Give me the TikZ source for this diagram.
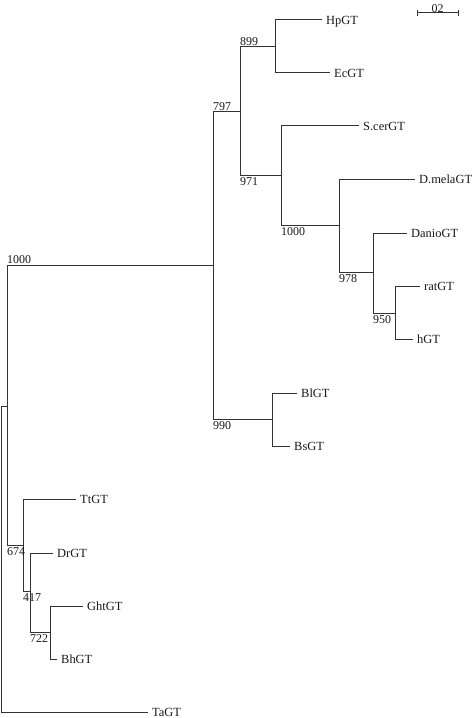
\documentclass[tikz,border=0pt]{standalone}
\usepackage{fontspec}
\setmainfont{Liberation Serif}
\usetikzlibrary{calc}
\definecolor{Ink}{HTML}{1A1A1A}
\definecolor{Twig}{HTML}{333333}
\tikzset{
  branch/.style={draw=Twig,line width=1bp},
  leaf/.style={anchor=west,text=Ink,font=\fontsize{12.5}{12.5}\selectfont,
    inner xsep=4bp,inner ysep=0bp,text height=8.5bp,text depth=0bp},
  bootup/.style={anchor=south west,text=Ink,font=\fontsize{12}{12}\selectfont,
    inner xsep=0bp,inner ysep=1.5bp,text height=8bp,text depth=0bp},
  bootdown/.style={bootup,anchor=north west,inner ysep=2bp}
}
\newcommand{\treeframe}[2]{
  \path[use as bounding box] (0,0) rectangle (#1,#2);
  \fill[white] (0,0) rectangle (#1,#2);
}

\begin{document}
\begin{tikzpicture}[x=1bp,y=-1bp]
  \treeframe{472}{718}

  % internal nodes of the tree
  \coordinate (nR) at (1,406);
  \coordinate (nA) at (7,406);
  \coordinate (nB) at (213,265);
  \coordinate (nC) at (240,112);
  \coordinate (nD) at (275,47);
  \coordinate (nE) at (281,175);
  \coordinate (nF) at (339,225);
  \coordinate (nG) at (373,272);
  \coordinate (nH) at (395,313);
  \coordinate (nJ) at (272,419);
  \coordinate (nK) at (23,545);
  \coordinate (nL) at (30,591);
  \coordinate (nM) at (50,632);

  % leaves
  \node[leaf] (hp)   at (322,20)  {HpGT};
  \node[leaf] (ec)   at (330,73)  {EcGT};
  \node[leaf] (scer) at (359,126) {S.cerGT};
  \node[leaf] (dmel) at (415,179) {D.melaGT};
  \node[leaf] (dan)  at (407,233) {DanioGT};
  \node[leaf] (rat)  at (420,286) {ratGT};
  \node[leaf] (hu)   at (413,339) {hGT};
  \node[leaf] (bl)   at (297,393) {BlGT};
  \node[leaf] (bs)   at (290,446) {BsGT};
  \node[leaf] (tt)   at (76,499)  {TtGT};
  \node[leaf] (dr)   at (53,553)  {DrGT};
  \node[leaf] (ght)  at (83,606)  {GhtGT};
  \node[leaf] (bh)   at (57,659)  {BhGT};
  \node[leaf] (ta)   at (148,712) {TaGT};

  % branches
  \draw[branch] (nR) -- (nA);
  \draw[branch] (nR) |- (ta.west);
  \foreach \p/\c in {nA/nB,nA/nK,nB/nC,nB/nJ,nC/nD,nC/nE,nE/nF,nF/nG,nG/nH,nK/nL,nL/nM}
    \draw[branch] (\p) |- (\c);
  \foreach \p/\c in {nD/hp,nD/ec,nE/scer,nF/dmel,nG/dan,nH/rat,nH/hu,nJ/bl,nJ/bs,nK/tt,nL/dr,nM/ght,nM/bh}
    \draw[branch] (\p) |- (\c.west);

  % bootstrap values
  \node[bootup]   (b1000a) at (nA |- nB) {1000};
  \node[bootup]   (b797)   at (nB |- nC) {797};
  \node[bootup]   (b899)   at (nC |- nD) {899};
  \node[bootdown] (b971)   at (nC |- nE) {971};
  \node[bootdown] (b1000b) at (nE |- nF) {1000};
  \node[bootdown] (b978)   at (nF |- nG) {978};
  \node[bootdown] (b950)   at (nG |- nH) {950};
  \node[bootdown] (b990)   at (nB |- nJ) {990};
  \node[bootdown] (b674)   at (nA |- nK) {674};
  \node[bootdown] (b417)   at (nK |- nL) {417};
  \node[bootdown] (b722)   at (nL |- nM) {722};

  % scale bar
  \coordinate (sbL) at (417,13);
  \coordinate (sbR) at (458,13);
  \draw[branch] (sbL) -- (sbR);
  \draw[branch] ([yshift=3bp]sbL) -- ([yshift=-3bp]sbL);
  \draw[branch] ([yshift=3bp]sbR) -- ([yshift=-3bp]sbR);
  \node[bootup,anchor=south,inner ysep=0.5bp] (sbtext) at ($(sbL)!0.5!(sbR)$) {02};
\end{tikzpicture}
\end{document}
